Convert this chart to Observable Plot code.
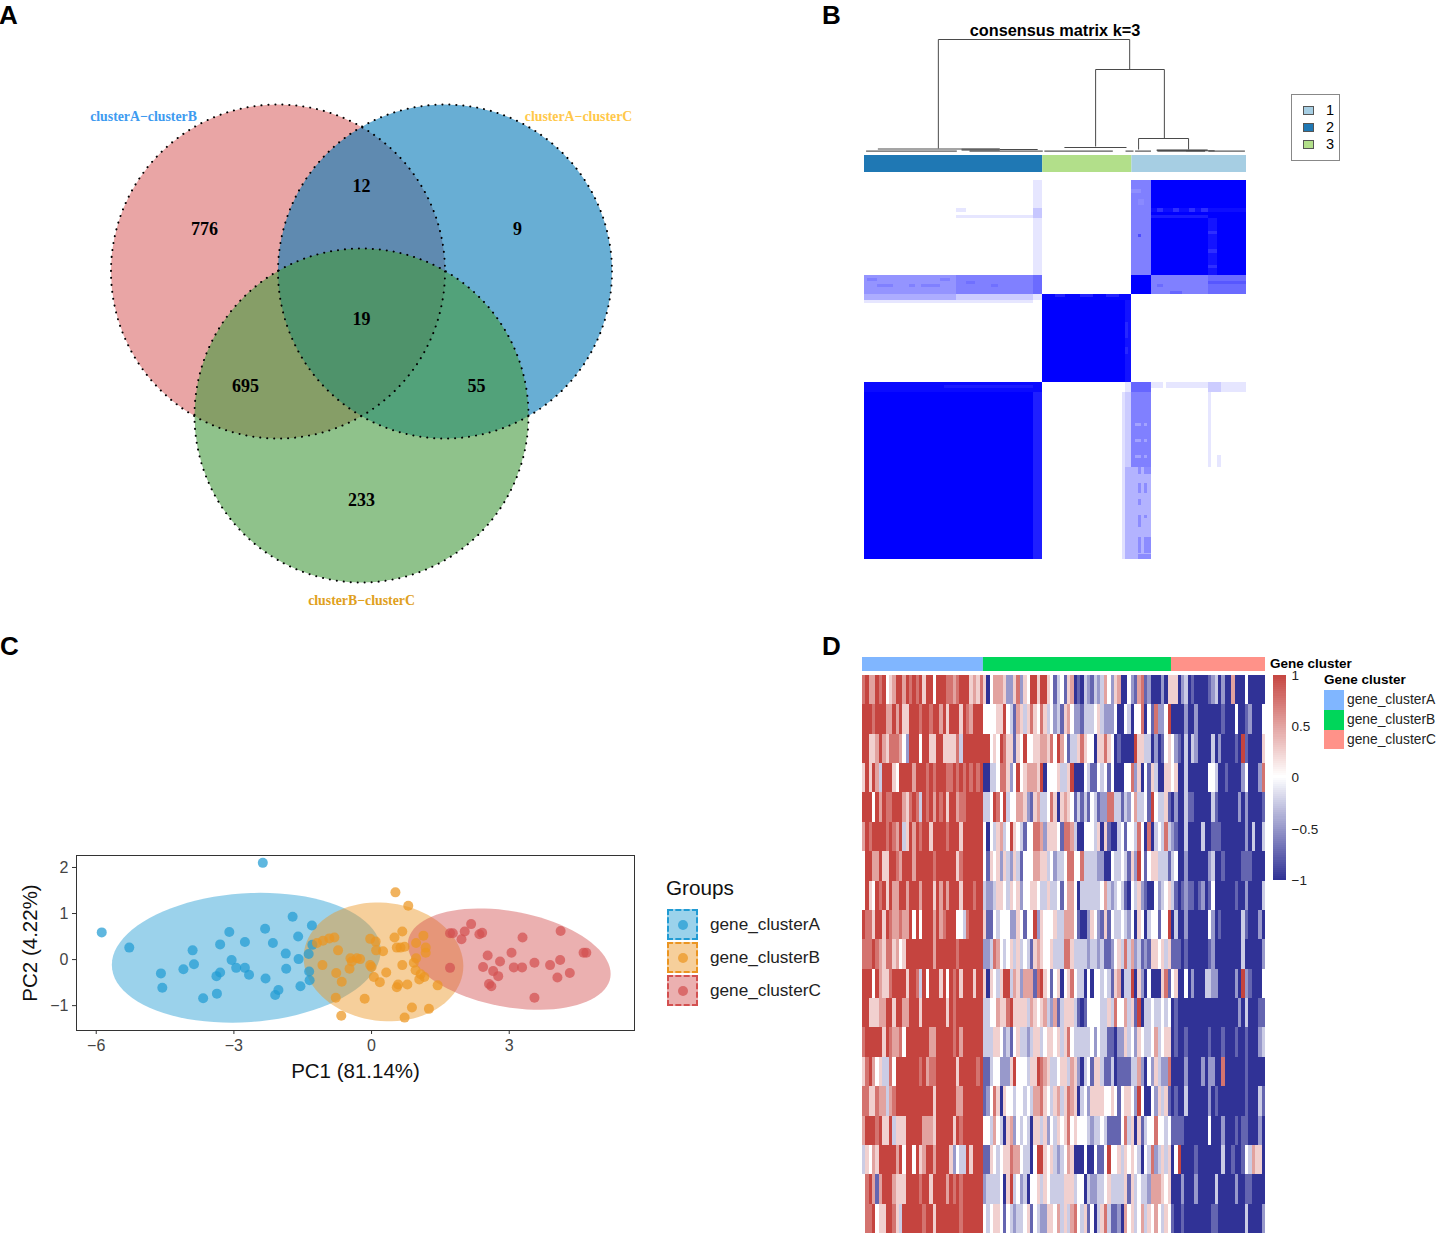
<!DOCTYPE html>
<html><head><meta charset="utf-8">
<script src="https://cdn.jsdelivr.net/npm/d3@7"></script>
<script src="https://cdn.jsdelivr.net/npm/@observablehq/plot@0.6"></script>
<style>
html,body{margin:0;padding:0;background:#fff}
#page{position:relative;width:1440px;height:1239px;overflow:hidden;font-family:"Liberation Sans",Arial,sans-serif}
.t{position:absolute;white-space:nowrap;line-height:1}
</style></head><body><div id="page"></div>
<script>
// ---------- A: Venn ----------
const vennSets=["clusterA−clusterB","clusterA−clusterC","clusterB−clusterC"];
const vennCx=[277.5,444.5,361];
const vennCy=[271,271,415];
const vennColors=["#DA6969","#0378B7","#44993E"];
const vennLabelX=[143,578,361];
const vennLabelY=[116,116,600];
const vennLabelColors=["#3E9BF0","#FFC84A","#E0A020"];
const vennCounts=[776,12,9,19,695,55,233];
const vennCountX=[204,361,517,361,245,476,361];
const vennCountY=[229,186,229,319,386,386,500];
// ---------- B: consensus matrix ----------
const sampleGroups=["2","3","1"];
const sampleSizes=[56,28,36];
const sampleColors=["#1F78B4","#B2DF8A","#A6CEE3"];
const legendGroups=["1","2","3"];
// [col start, col end, row start, row end, consensus]
const matrixBlocks=[
[53,56,0,9,.1],[53,56,9,12,.22],[53,56,12,28,.1],[29,32,9,10,.1],[29,53,11,12,.1],[53,56,25,30,.1],
[84,90,0,30,.5],[84,87,3,4,.44],[86,88,6,8,.46],[90,120,0,30,1],[90,120,9,10,.95],[92,94,9,10,.82],[97,99,9,10,.82],[102,104,9,10,.82],[106,108,9,10,.82],
[90,108,11,12,.9],[108,111,12,30,.92],[108,111,16,17,.82],[108,111,22,23,.82],[108,111,27,28,.82],[86,87,17,18,.7],
[0,29,30,36,.42],[29,53,30,36,.5],[53,56,30,36,.58],[1,4,31,32,.5],[4,9,33,34,.5],[14,16,33,34,.5],[18,24,33,34,.5],[24,27,31,32,.5],[32,35,32,33,.56],[40,42,33,34,.56],
[84,90,30,36,1],[90,108,30,36,.5],[108,120,30,36,.58],[92,94,33,34,.58],[96,100,35,36,.6],[108,120,32,33,.66],
[0,29,36,38,.32],[29,53,36,38,.2],[53,56,36,38,.1],[0,53,38,39,.1],
[56,84,36,64,1],[56,84,36,38,.97],[60,63,36,37,.86],[68,72,36,37,.86],[76,80,36,37,.86],[82,84,38,64,.93],[82,83,45,50,.85],[82,83,53,55,.85],
[0,56,64,120,1],[53,56,64,120,.88],[0,56,64,67,.96],[25,53,65,66,.9],
[82,84,64,67,.1],[81,82,67,120,.12],[82,84,67,91,.2],[82,84,91,120,.3],
[84,90,64,67,.6],[84,90,67,91,.5],[84,90,91,120,.3],[85,87,77,78,.36],[88,89,77,78,.36],[85,87,82,83,.36],[88,89,82,83,.36],[85,87,87,88,.36],[88,89,87,88,.36],
[86,87,91,93,.45],[88,90,91,93,.45],[86,87,96,99,.45],[88,89,96,99,.45],[86,87,101,103,.45],[86,87,106,110,.45],[88,89,106,107,.45],[86,87,113,118,.45],[88,90,113,118,.45],[86,90,118.5,120,.45],
[90,94,64,66,.1],[95,108,64,66,.1],[108,112,64,67,.2],[112,120,64,67,.1],[108,109,67,91,.1],[111,112,87,91,.1]];
// [x start, height start, x end, height end]
const dendroLinks=[
[23.2,112,83.3,112],[23.2,112,23.2,3],[83.3,112,83.3,82],[72.6,82,94.2,82],[72.6,82,72.6,5],[94.2,82,94.2,13],
[86.1,13,101.8,13],[86.1,13,86.1,2],[101.8,13,101.8,2],[62.8,4,82.3,4],[4.2,2.5,42.5,2.5],[42.5,2,54.4,2],[91.8,1.5,107.8,1.5]];
const dendroHeavy=[[30.5,2.3,42.5,2.3],[30.5,1.4,42.5,1.4],[91.8,1.1,107.8,1.1],[101,.7,110,.7]];
const dendroBase=[[.5,.4,29,.4],[33,.4,56,.4],[56.5,.4,78,.4],[82,.4,84.5,.4],[85,.4,90,.4],[92,.4,107,.4],[108,.4,119.5,.4]];
// ---------- C: PCA ----------
const pcaTicksX=[-6,-3,0,3];
const pcaTicksY=[-1,0,1,2];
const pcaGroups=["gene_clusterA","gene_clusterB","gene_clusterC"];
const pcaColors=["#219BD3","#EB9521","#D35050"];
const pcaA=[[-2.37,2.10],[-5.88,.59],[-5.28,.26],[-3.90,.20],[-4.59,-.30],[-4.56,-.61],[-4.10,-.21],[-3.87,-.10],[-3.67,-.84],[-3.37,-.74],[-3.38,-.36],[-3.30,-.28],[-3.30,.33],[-3.10,.60],[-3.05,-.01],[-2.95,-.18],[-2.76,.38],[-2.76,-.18],[-2.67,-.33],[-2.32,.67],[-2.31,-.41],[-2.15,.36],[-2.10,-.77],[-2.03,-.66],[-1.87,.13],[-1.86,-.20],[-1.72,.93],[-1.60,.50],[-1.59,.01],[-1.55,-.58],[-1.36,-.26],[-1.35,-.45],[-1.30,.74],[-1.29,.32],[-1.37,.12]];
const pcaB=[[.52,1.46],[.80,1.17],[.67,.61],[.50,.48],[-.03,.45],[.09,.39],[-.81,.48],[-.92,.46],[-1.06,.41],[-1.19,.36],[-.73,.20],[-1.07,-.12],[-.77,-.29],[-.65,-.48],[-.78,-.83],[-.66,-1.22],[-.15,-.85],[.10,.20],[-.46,.03],[-.32,.03],[-.43,-.04],[-.25,.01],[-.48,-.20],[0,-.16],[-.03,-.12],[.25,.18],[.55,.26],[.63,.26],[.72,.28],[.97,.36],[1.13,.52],[1.18,.26],[1.18,.15],[.97,.03],[.92,-.07],[.67,-.12],[.32,-.28],[.05,-.38],[.18,-.49],[.58,-.54],[.55,-.60],[.78,-.54],[.96,-.23],[1.07,-.32],[1.15,-.38],[1.04,-.43],[1.44,-.56],[.88,-1.04],[1.25,-1.07],[.72,-1.26]];
const pcaC=[[1.71,.57],[1.77,.57],[2.03,.61],[2.17,.77],[2.35,.55],[2.41,.58],[1.96,.44],[1.71,-.18],[2.53,.09],[2.43,-.16],[2.65,-.25],[2.80,-.04],[2.76,-.36],[2.56,-.53],[2.61,-.58],[3.05,.15],[3.10,-.17],[3.28,-.17],[3.29,.48],[3.55,-.07],[3.89,-.12],[4.05,-.39],[4.11,-.01],[4.12,.62],[4.32,-.29],[3.55,-.83],[4.62,.15],[4.68,.15]];
// ellipse: centre x, centre y, half width, half height, correlation
const ellipseA=[-2.73,.04,2.93,1.41,.11];
const ellipseB=[.26,-.05,1.74,1.29,-.07];
const ellipseC=[3.0,.01,2.21,1.10,-.29];
// ---------- D: heatmap; one digit per sample, 0 = −1, 4 = 0, 8 = 1 ----------
const geneGroups=["gene_clusterA","gene_clusterB","gene_clusterC"];
const geneSizes=[36,56,28];
const geneColors=["#80B6FF","#00D65A","#FF9289"];
const heatLegendTicks=[-1,-.5,0,.5,1];
const heatA=[
"7866878456 8868787858 8488877678 885657",
"8887888668 6855888788 7886858885 876888",
"8855686577 7642888488 5588555573 888888",
"5858638885 4888868887 8788877878 787878",
"8884868778 8865787387 8687858867 788888",
"6878888787 6835868788 5888878885 888888",
"4886685588 7688868888 8788888857 888888",
"4854878586 6886888688 8586868885 888788",
"8775885876 6766848488 8686788844 378888",
"7778765775 6458888888 8688888878 888888",
"8884865578 8885887384 8885848785 888588",
"8855566885 8866888588 8888858788 888888",
"7888885876 6748888888 6688888786 888888",
"5786453374 8888888786 7788888858 888878",
"7755766367 8888888888 8588888866 888888",
"6888785583 5558888866 6588888587 888888",
"3546588888 6848848568 8688885243 385888",
"4786168886 5558888788 5888868787 888888",
"4778455887 5388888878 8588888887 888888"];
const heatB=[
"5046665225 7254885885 4134156010 3213236425 6004216712 000205",
"4444558431 6535754753 4231564221 3334532224 0043044704 172248",
"8845487551 5484455665 7486413357 5440557540 1000085533 020145",
"0033477524 8456665804 4453358000 4311434140 0044725041 530055",
"3348748344 6652156334 7505654131 3143122773 3132463341 843351",
"4043563485 4314477625 5541776300 4443505100 3414437407 034373",
"4154525325 3144466553 4233477447 3333220043 3431528414 553331",
"3223554354 5244554335 3341466403 3333346323 4310435210 042345",
"5114344422 5414482544 4533666410 0254215143 3432405403 441448",
"2237643453 5343156544 5333775333 3233231124 5373623121 554535",
"5054358836 5266617854 1450457433 0404434315 6033805204 000571",
"3344655785 5553654563 2613555310 1444433537 4463518033 433434",
"3335542314 5332355345 5453574333 3342433110 2253425433 463455",
"1134422258 4443558765 3345536520 3415531130 1111336204 253227",
"1247505443 4434366754 3563576503 4255554454 1455428400 425351",
"4436430562 4343055352 4354574544 4323343111 1473505134 474434",
"1154345576 6433048854 5323465000 4004114844 5354543043 723535",
"2333340583 4230445354 3333555344 0322334533 3351534332 666545",
"4345541432 3345143225 5463536743 5140357311 2064534635 464354"];
const heatC=[
"5502301000 0123020060 0040000 05",
"0000200200 0000010004 0012000 4",
"4210303200 0030200001 0810000 5",
"4500300000 0443001000 0240002 7",
"0200311000 0031000000 2020000 1",
"2100300003 0011100000 0020300 3",
"3400200000 0230010000 0111000 0",
"3101211012 0140000001 0020000 3",
"0300200000 0420100000 0310002 0",
"1110100000 0120000000 0300000 2",
"4500402000 3322000002 0821000 4",
"0100000000 0000000000 2030001 1",
"0100100000 0100010001 0010002 3",
"0000200002 0220070000 0010000 0",
"0100300000 0201000000 0010003 1",
"1111000000 0400020001 0110002 0",
"0480000100 0000030010 0143655 0",
"0002000200 0003000002 0011000 0",
"1001000000 0011000000 0030000 2"];

// ---------- helpers ----------
const page=document.getElementById("page");
const clean={background:"transparent",overflow:"visible",fontFamily:"Liberation Sans"};
function place(p,left,top){p.style.position="absolute";p.style.left=left+"px";p.style.top=top+"px";page.appendChild(p);return p;}
function txt(s,left,top,css){const d=document.createElement("div");d.className="t";d.textContent=s;d.style.left=left+"px";d.style.top=top+"px";Object.assign(d.style,css||{});page.appendChild(d);return d;}
function box(left,top,w,h,css){const d=document.createElement("div");d.style.cssText=`position:absolute;box-sizing:border-box;left:${left}px;top:${top}px;width:${w}px;height:${h}px`;Object.assign(d.style,css||{});page.appendChild(d);return d;}

// panel letters
[["A",-1,2],["B",822,2],["C",0,633],["D",822,633]].forEach(([s,l,t])=>txt(s,l,t,{fontSize:"26px",fontWeight:"bold"}));

// ---------- A ----------
const vennData=vennSets.map((name,i)=>({name,x:vennCx[i],y:vennCy[i],lx:vennLabelX[i],ly:vennLabelY[i]}));
place(Plot.plot({width:700,height:620,margin:0,style:clean,
  x:{domain:[0,700],range:[0,700],axis:null},y:{domain:[0,620],range:[0,620],axis:null},
  color:{domain:vennSets,range:vennColors},
  marks:[
    Plot.dot(vennData,{x:"x",y:"y",r:167,fill:"name",fillOpacity:.6,stroke:"none"}),
    Plot.dot(vennData,{x:"x",y:"y",r:167,fill:"none",stroke:"#000",strokeWidth:2,strokeDasharray:"0.1 6.9",strokeLinecap:"round"}),
    Plot.text(vennCounts.map((c,i)=>({c,x:vennCountX[i],y:vennCountY[i]})),{x:"x",y:"y",text:d=>String(d.c),fontFamily:"Liberation Serif",fontWeight:"bold",fontSize:18,fill:"#000"}),
    ...vennData.map((d,i)=>Plot.text([d],{x:"lx",y:"ly",text:"name",fontFamily:"Liberation Serif",fontWeight:"bold",fontSize:13.8,fill:vennLabelColors[i]}))
  ]}),0,0);

// ---------- B ----------
txt("consensus matrix k=3",1055,22,{fontSize:"16.3px",fontWeight:"bold",transform:"translateX(-50%)"});
const lnk=(rows,w,c)=>Plot.link(rows,{x1:d=>d[0],y1:d=>d[1],x2:d=>d[2],y2:d=>d[3],stroke:c,strokeWidth:w});
place(Plot.plot({width:382,height:113,margin:0,style:clean,
  x:{domain:[0,120],axis:null},y:{domain:[0,113],range:[113,0],axis:null},
  marks:[lnk(dendroLinks,1,"#4a4a4a"),lnk(dendroHeavy,1,"#555"),lnk(dendroBase,1,"#333")]}),864,38);
place(Plot.plot({width:382,height:17,margin:0,style:clean,
  x:{domain:[0,120],axis:null},
  color:{domain:sampleGroups,range:sampleColors},
  marks:[Plot.barX(sampleGroups.map((g,i)=>({g,n:sampleSizes[i]})),{x:"n",fill:"g"})]}),864,155);
place(Plot.plot({width:382,height:379,margin:0,style:clean,
  x:{domain:[0,120],axis:null},y:{domain:[0,120],range:[0,379],axis:null},
  color:{type:"linear",domain:[0,1],range:["#ffffff","#0000ff"]},
  marks:[Plot.rect(matrixBlocks,{x1:d=>d[0],x2:d=>d[1],y1:d=>d[2],y2:d=>d[3],fill:d=>d[4],shapeRendering:"crispEdges"})]}),864,180).style.filter="blur(0.5px)";
box(1291,94,49,67,{border:"1px solid #888"});
legendGroups.forEach((g,i)=>{
  box(1303,105.5+i*17,11,9,{background:sampleColors[sampleGroups.indexOf(g)],border:"1px solid #555"});
  txt(g,1326,103+i*17,{fontSize:"14.5px"});
});

// ---------- C ----------
const pcaPts=[pcaA,pcaB,pcaC].flatMap((s,i)=>s.map(([x,y])=>({x,y,g:pcaGroups[i]})));
const angles=d3.range(0,361,4).map(a=>a*Math.PI/180);
const ellipsePts=[ellipseA,ellipseB,ellipseC].flatMap(([cx,cy,w,h,r],i)=>angles.map(t=>({
  g:pcaGroups[i],x:cx+w*Math.cos(t),y:cy+h*(r*Math.cos(t)+Math.sqrt(1-r*r)*Math.sin(t))})));
const tickText=d=>String(d).replace("-","−");
place(Plot.plot({width:650,height:270,marginLeft:76,marginRight:16,marginTop:25,marginBottom:70,style:clean,
  x:{domain:[-6.43,5.73]},y:{domain:[-1.54,2.26]},
  color:{domain:pcaGroups,range:pcaColors},
  marks:[
    Plot.line(ellipsePts,{x:"x",y:"y",z:"g",fill:"g",stroke:null,fillOpacity:.45}),
    Plot.dot(pcaPts,{x:"x",y:"y",fill:"g",r:5,fillOpacity:.72,stroke:"none"}),
    Plot.frame({stroke:"#333",strokeWidth:1}),
    Plot.axisX({ticks:pcaTicksX,tickFormat:tickText,tickSize:4,tickPadding:5,fontSize:16,label:null,color:"#444",stroke:"#333"}),
    Plot.axisY({ticks:pcaTicksY,tickFormat:tickText,tickSize:4,tickPadding:4,fontSize:16,label:null,color:"#444",stroke:"#333"}),
    Plot.text(["PC1 (81.14%)"],{frameAnchor:"bottom",lineAnchor:"middle",dy:41,text:d=>d,fontSize:20.5,fill:"#111"}),
    Plot.text(["PC2 (4.22%)"],{frameAnchor:"left",textAnchor:"middle",lineAnchor:"middle",dx:-46,rotate:-90,text:d=>d,fontSize:20.5,fill:"#111"})
  ]}),0,830);
txt("Groups",666,878,{fontSize:"20.7px",color:"#111"});
pcaGroups.forEach((g,i)=>{
  const c=pcaColors[i],t=909+i*33;
  box(667,t,31,31,{background:c+"73",border:"2px dashed "+c});
  box(677.5,t+10.5,10,10,{background:c+"b8",borderRadius:"50%"});
  txt(g,710,t+7,{fontSize:"17.2px",color:"#222"});
});

// ---------- D ----------
const cols=d3.range(120);
const rowsIdx=d3.range(heatA.length);
const heatCells=rowsIdx.flatMap(r=>[[heatA,0],[heatB,36],[heatC,92]].flatMap(([set,off])=>
  Array.from(set[r].replace(/ /g,"")).map((ch,i)=>({r,c:off+i,v:(+ch-4)/4}))));
place(Plot.plot({width:403,height:14,margin:0,style:clean,
  x:{domain:[0,120],axis:null},
  color:{domain:geneGroups,range:geneColors},
  marks:[Plot.barX(geneGroups.map((g,i)=>({g,n:geneSizes[i]})),{x:"n",fill:"g"})]}),862,657);
const heatColor={type:"linear",domain:[-1,0,1],range:["#303296","#ffffff","#C5443F"]};
place(Plot.plot({width:403,height:558,margin:0,style:clean,
  x:{type:"band",domain:cols,padding:0,round:false,axis:null},
  y:{type:"band",domain:rowsIdx,padding:0,round:false,axis:null},
  color:heatColor,
  marks:[Plot.cell(heatCells,{x:"c",y:"r",fill:"v",shapeRendering:"crispEdges"})]}),862,675).style.filter="blur(0.6px)";
const steps=d3.range(-1,1,.02);
place(Plot.plot({width:70,height:205,marginLeft:0,marginRight:57,marginTop:0,marginBottom:0,style:clean,
  y:{domain:[-1,1]},color:heatColor,
  marks:[
    Plot.rect(steps,{y1:d=>d,y2:d=>d+.02,fill:d=>d,shapeRendering:"crispEdges"}),
    Plot.axisY({anchor:"right",ticks:heatLegendTicks,tickSize:0,tickPadding:5,fontSize:13.5,color:"#222",label:null,tickFormat:tickText})
  ]}),1273,675);
txt("Gene cluster",1270,657,{fontSize:"13.5px",fontWeight:"bold"});
txt("Gene cluster",1324,673,{fontSize:"13.5px",fontWeight:"bold"});
geneGroups.forEach((g,i)=>{
  box(1324,690+i*19.8,19.5,19.8,{background:geneColors[i]});
  txt(g,1347,693+i*19.8,{fontSize:"13.8px",color:"#222"});
});
</script></body></html>
